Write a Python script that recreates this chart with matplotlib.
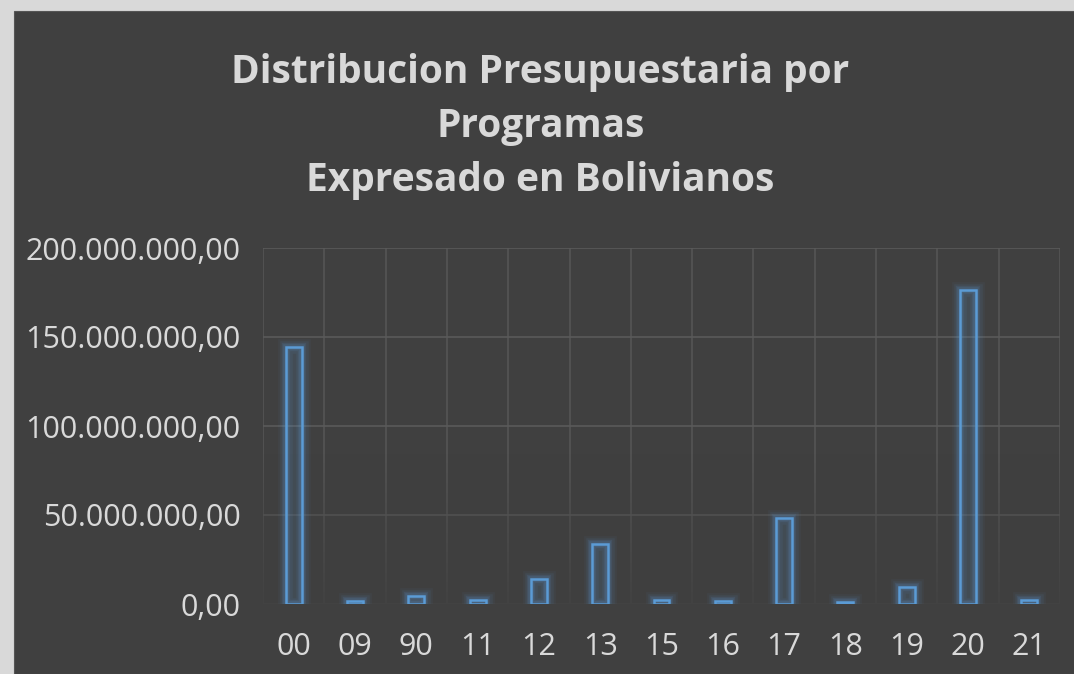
import numpy as np
import matplotlib.pyplot as plt
from matplotlib.patches import Rectangle
from matplotlib.colors import LinearSegmentedColormap
from matplotlib.ticker import FuncFormatter

programas = ['00', '09', '90', '11', '12', '13', '15', '16', '17', '18', '19', '20', '21']
presupuesto = [144.4e6, 1.5e6, 4.5e6, 2.2e6, 14.0e6, 33.7e6, 2.0e6, 1.5e6,
               48.3e6, 1.0e6, 9.5e6, 176.3e6, 2.2e6]

fondo = '#404040'
texto = '#d9d9d9'
azul = '#5b9bd5'

plt.rcParams['font.family'] = ['Open Sans', 'DejaVu Sans']

fig = plt.figure(figsize=(10.74, 6.74), dpi=100, facecolor='#d9d9d9')
fig.patches.append(Rectangle((14 / 1074, 0), 1, 1 - 11 / 674, transform=fig.transFigure,
                             facecolor=fondo, edgecolor='#555555', lw=0.8, zorder=-5))

ax = fig.add_axes([263 / 1074, 1 - 604 / 674, (1060 - 263) / 1074, (604 - 248) / 674])
ax.set_facecolor('none')
ax.set_axisbelow(True)

n = len(programas)
x = np.arange(n)
# brillo alrededor de las barras
for lw, a in [(12, 0.05), (9, 0.08), (6, 0.12), (4, 0.15)]:
    ax.bar(x, presupuesto, width=0.26, facecolor='none', edgecolor=azul, linewidth=lw, alpha=a, zorder=2)
ax.bar(x, presupuesto, width=0.26, facecolor=(0.36, 0.61, 0.84, 0.1), edgecolor=azul, linewidth=1.8, zorder=3)

# la cuadricula se desvanece hacia abajo
cmap = LinearSegmentedColormap.from_list('fade', [(0.25, 0.25, 0.25, 0.85), (0.25, 0.25, 0.25, 0.0)])
grad = np.linspace(0, 1, 100).reshape(-1, 1)
ax.imshow(grad, cmap=cmap, origin='lower', aspect='auto', extent=(-0.5, n - 0.5, -1e6, 85e6),
          zorder=1.8, interpolation='bilinear')

ax.set_xlim(-0.5, n - 0.5)
ax.set_ylim(0, 200e6)
ax.set_yticks(np.arange(0, 200e6 + 1, 50e6))
ax.yaxis.set_major_formatter(FuncFormatter(lambda v, p: f'{v:,.2f}'.replace(',', 'X').replace('.', ',').replace('X', '.')))
ax.set_xticks(x)
ax.set_xticklabels(programas)
ax.set_xticks(np.arange(-0.5, n), minor=True)

ax.grid(axis='y', which='major', color='#5a5a5a', lw=1.2)
ax.grid(axis='x', which='minor', color='#555555', lw=1.2)
for s in ax.spines.values():
    s.set_visible(False)
ax.tick_params(which='both', length=0, colors=texto, labelsize=22)
ax.tick_params(axis='x', pad=20)
ax.tick_params(axis='y', pad=16)

fig.text(0.503, 1 - 72 / 674, 'Distribucion Presupuestaria por', ha='center', va='center',
         fontsize=28, fontweight='bold', color=texto)
fig.text(0.503, 1 - 126 / 674, 'Programas', ha='center', va='center',
         fontsize=28, fontweight='bold', color=texto)
fig.text(0.503, 1 - 181 / 674, 'Expresado en Bolivianos', ha='center', va='center',
         fontsize=28, fontweight='bold', color=texto)

fig.savefig('out.png', dpi=100, facecolor=fig.get_facecolor())
